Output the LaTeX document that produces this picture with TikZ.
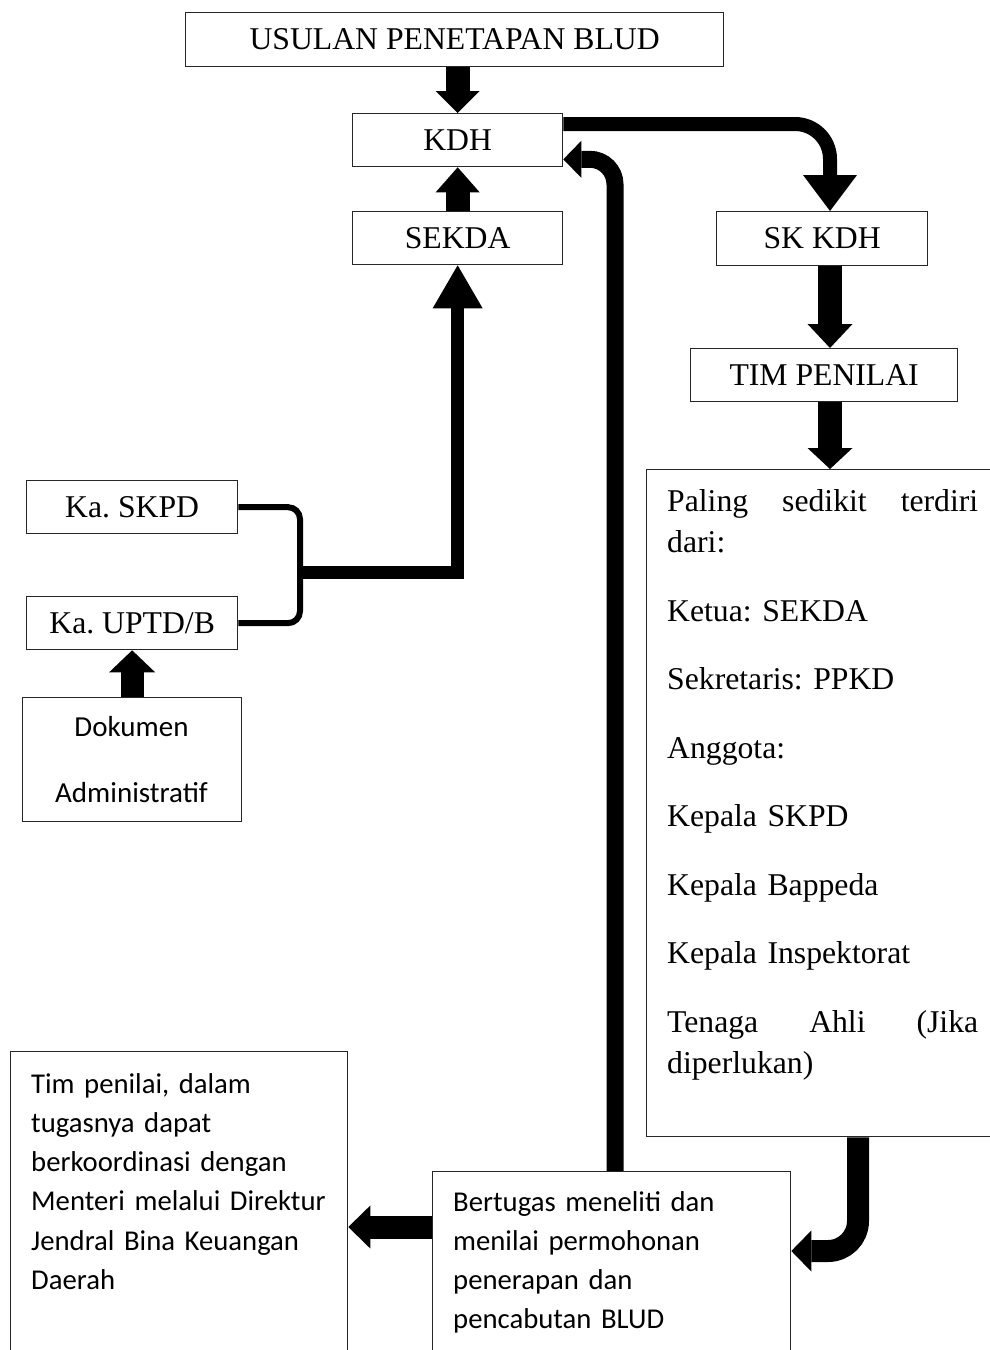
\documentclass[tikz,border=0pt]{standalone}
\usepackage{fontspec}
\setmainfont{Liberation Serif}
\newfontfamily\calfont{Carlito}
\usetikzlibrary{arrows.meta,calc}
\newcommand\tnrsize{\fontsize{31.7pt}{38pt}\selectfont}
\begin{document}
\frenchspacing
\begin{tikzpicture}[x=1pt,y=-1pt,
  bx/.style={draw=black!85,line width=1.3pt,inner sep=0pt,anchor=north west,font=\tnrsize},
  fat/.style n args={3}{line width=#1,line join=miter,-{Triangle[width=#2,length=#3,line width=0pt]}},
  txt/.style={anchor=base west,inner sep=0pt,align=left}]
\useasboundingbox (0,0) rectangle (989,1350);
% boxes
\node[bx,minimum width=538pt,minimum height=54pt] (usul) at (185,12) {USULAN PENETAPAN BLUD};
\node[bx,minimum width=210pt,minimum height=53pt] (kdh) at (352,113) {KDH};
\node[bx,minimum width=210pt,minimum height=53pt] (sekda) at (352,211) {SEKDA};
\node[bx,minimum width=211pt,minimum height=54pt] (skkdh) at (716,211) {SK KDH};
\node[bx,minimum width=267pt,minimum height=53pt] (tim) at (690,348) {TIM PENILAI};
\node[bx,minimum width=352pt,minimum height=667pt] (paling) at (646,469) {};
\node[bx,minimum width=211pt,minimum height=53pt] (skpd) at (26,480) {Ka. SKPD};
\node[bx,minimum width=211pt,minimum height=53pt] (uptd) at (26,596) {Ka. UPTD/B};
\node[bx,minimum width=219pt,minimum height=124pt] (dok) at (22,697) {};
\node[bx,minimum width=337pt,minimum height=330pt] (timp) at (10,1051) {};
\node[bx,minimum width=358pt,minimum height=200pt] (bert) at (432,1171) {};
% texts inside boxes
\node[txt,text width=311pt,font=\fontsize{31.7pt}{41.5pt}\selectfont] (palingtxt) at (667,511)
 {\makebox[311pt][l]{Paling\hfill sedikit\hfill terdiri}\\dari:\\[27pt]Ketua: SEKDA\\[27pt]Sekretaris: PPKD\\[27pt]Anggota:\\[27pt]Kepala SKPD\\[27pt]Kepala Bappeda\\[27pt]Kepala Inspektorat\\[27pt]\makebox[311pt][l]{Tenaga\hfill Ahli\hfill (Jika}\\diperlukan)};
\node[anchor=base,inner sep=0pt,text width=210pt,align=center,font=\calfont\fontsize{29pt}{66pt}\selectfont] (doktxt) at (131.5,736) {Dokumen\\Administratif};
\node[txt,text width=310pt,font=\calfont\fontsize{28.7pt}{39.3pt}\selectfont] (timptxt) at (31,1093)
 {Tim penilai, dalam\\tugasnya dapat\\berkoordinasi dengan\\Menteri melalui Direktur\\Jendral Bina Keuangan\\Daerah};
\node[txt,text width=330pt,font=\calfont\fontsize{28.7pt}{39pt}\selectfont] (berttxt) at (453,1211)
 {Bertugas meneliti dan\\menilai permohonan\\penerapan dan\\pencabutan BLUD};
% helper coordinates
\coordinate (ax) at (830,0);
\coordinate (px) at (858,0);
\coordinate (fx) at (615,0);
\coordinate (jn) at (300,572.5);
% connectors
\draw[fat={24pt}{44pt}{22pt}] (kdh.north |- usul.south) -- (kdh.north);
\draw[fat={24pt}{44pt}{25pt}] (sekda.north) -- (kdh.south);
\draw[line width=6pt,rounded corners=12pt] (skpd.east) -| (jn) |- (uptd.east);
\draw[fat={13pt}{50pt}{43pt}] (jn) -| (sekda.south);
\draw[fat={23pt}{46pt}{22pt}] (dok.north) -- (uptd.south);
\draw[fat={14pt}{54pt}{36pt},rounded corners=35pt] ($(kdh.north east)+(0,11)$) -| (skkdh.north -| ax);
\draw[fat={24pt}{45pt}{24pt}] (skkdh.south -| ax) -- (tim.north -| ax);
\draw[fat={24pt}{45pt}{21pt}] (tim.south -| ax) -- (paling.north -| ax);
\draw[fat={22pt}{41pt}{20pt},rounded corners=30pt] (paling.south -| px) |- ($(bert.north east)+(0,80)$);
\draw[fat={23pt}{43pt}{22pt}] ($(bert.north west)+(0,56)$) -- ($(timp.north east)+(0,176)$);
\draw[fat={17pt}{37pt}{18pt},rounded corners=25pt] (bert.north -| fx) |- ($(kdh.south east)+(0,-8)$);
\end{tikzpicture}
\end{document}
